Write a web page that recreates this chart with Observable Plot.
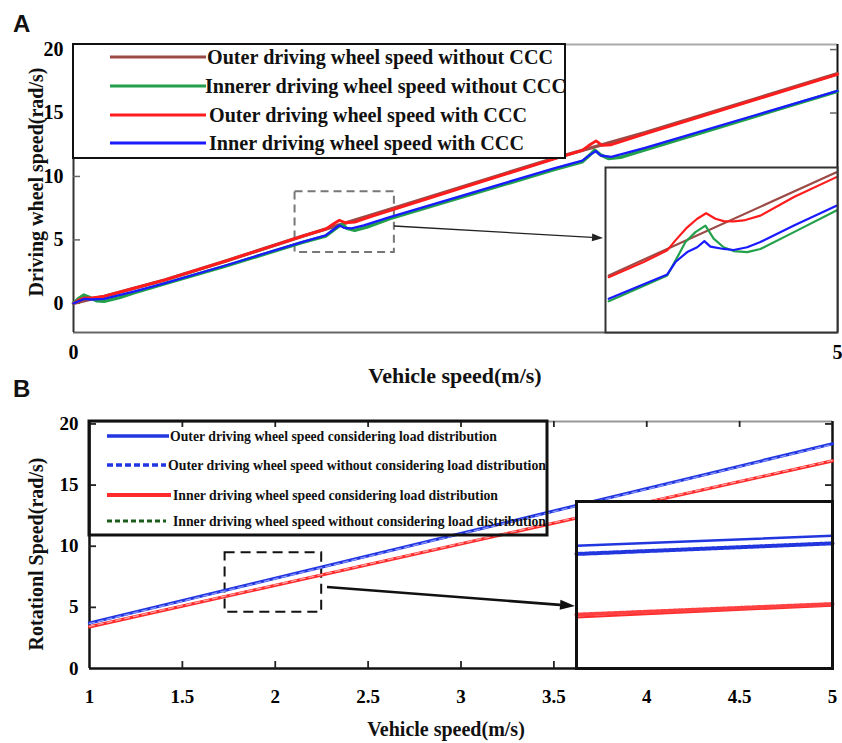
<!DOCTYPE html>
<html><head><meta charset="utf-8">
<script src="https://cdn.jsdelivr.net/npm/d3@7"></script>
<script src="https://cdn.jsdelivr.net/npm/@observablehq/plot@0.6"></script>
<style>
html,body{margin:0;padding:0;background:#fff;}
#root{position:relative;width:842px;height:743px;overflow:hidden;background:#fff;}
</style></head><body><div id="root"></div>
<script>
// ---------------- DATA ----------------
// Panel A: driving wheel speed (rad/s) vs vehicle speed (m/s)
const xTicksA = [0, 5];
const yTicksA = [0, 5, 10, 15, 20];
const legendA = [
  "Outer driving wheel speed without CCC",
  "Innerer driving wheel speed without CCC",
  "Outer driving wheel speed with CCC",
  "Inner driving wheel speed with CCC"
];
const outerNoCCC = [[0,0],[0.1,0.3],[0.2,0.55],[0.4,1.2],[0.6,1.85],[1.0,3.35],[1.5,5.3],[2.07,7.4],[3.15,11.45],[3.74,13.45],[5,18.1]];
const innerNoCCC = [[0,0],[0.03,0.35],[0.067,0.65],[0.1,0.5],[0.15,0.2],[0.2,0.15],[0.3,0.45],[0.4,0.85],[0.6,1.55],[1.0,2.95],[1.5,4.8],[1.65,5.3],[1.70,5.75],[1.74,6.1],[1.76,6.2],[1.79,5.9],[1.84,5.75],[1.92,6.0],[2.07,6.68],[3.15,10.55],[3.33,11.15],[3.38,11.7],[3.41,12.07],[3.45,11.7],[3.50,11.42],[3.58,11.5],[3.74,12.1],[5,16.7]];
const outerCCC = [[0,0],[0.04,0.3],[0.07,0.42],[0.12,0.42],[0.2,0.55],[0.4,1.2],[0.6,1.85],[1.0,3.35],[1.5,5.3],[1.65,5.85],[1.70,6.25],[1.74,6.55],[1.78,6.35],[1.84,6.4],[1.95,6.85],[2.07,7.3],[3.15,11.4],[3.33,12.05],[3.38,12.5],[3.42,12.8],[3.46,12.45],[3.52,12.5],[3.74,13.35],[5,18.05]];
const innerCCC = [[0,0],[0.04,0.2],[0.07,0.35],[0.12,0.3],[0.2,0.35],[0.4,0.95],[0.6,1.6],[1.0,3.0],[1.5,4.85],[1.65,5.35],[1.70,5.8],[1.74,6.15],[1.77,5.95],[1.82,5.9],[1.9,6.15],[2.07,6.8],[3.15,10.65],[3.33,11.25],[3.38,11.7],[3.42,12.0],[3.45,11.65],[3.52,11.55],[3.74,12.25],[5,16.75]];
// zoom window of panel A (inset)
const zoomXA = [1.45, 2.10];
const zoomYA = [4.0, 8.8];
const insetOuterNoCCC = [[1.459,5.66],[2.097,8.66]];
const insetOuterCCC = [[1.459,5.61],[1.557,6.05],[1.623,6.39],[1.646,6.68],[1.679,7.06],[1.707,7.31],[1.732,7.47],[1.758,7.31],[1.781,7.24],[1.809,7.23],[1.837,7.26],[1.884,7.40],[1.978,7.94],[2.097,8.52]];
const insetInnerNoCCC = [[1.459,4.91],[1.623,5.66],[1.646,6.09],[1.674,6.63],[1.702,6.92],[1.730,7.11],[1.753,6.73],[1.781,6.48],[1.809,6.37],[1.847,6.34],[1.884,6.43],[1.978,6.92],[2.097,7.55]];
const insetInnerCCC = [[1.459,4.98],[1.623,5.69],[1.646,6.05],[1.679,6.34],[1.707,6.48],[1.727,6.66],[1.744,6.50],[1.781,6.43],[1.809,6.40],[1.847,6.48],[1.884,6.63],[1.978,7.11],[2.097,7.69]];

// Panel B: rotational speed (rad/s) vs vehicle speed (m/s)
const xTicksB = [1, 1.5, 2, 2.5, 3, 3.5, 4, 4.5, 5];
const yTicksB = [0, 5, 10, 15, 20];
const legendB = [
  "Outer driving wheel speed considering load distribution",
  "Outer driving wheel speed without considering load distribution",
  "Inner driving wheel speed considering load distribution",
  "Inner driving wheel speed without considering load distribution"
];
const outerLD = [[1,3.72],[5,18.38]];
const outerNoLD = [[1,3.67],[5,18.33]];
const innerLD = [[1,3.40],[5,16.98]];
const innerNoLD = [[1,3.44],[5,17.02]];
const zoomXB = [1.73, 2.25];
const zoomYB = [4.59, 9.46];
const insetOuterLD = [[1.73,8.17],[2.25,8.46]];
const insetOuterNoLD = [[1.73,7.93],[2.25,8.24]];
const insetInnerLD = [[1.73,6.08],[2.25,6.42]];
const insetInnerNoLD = [[1.73,6.16],[2.25,6.47]];

// ---------------- STYLE / LAYOUT ----------------
const serif = "'Liberation Serif','Times New Roman',serif";
const sans = "'Liberation Sans',Arial,sans-serif";
const cA = {brown:"#9c4a46", green:"#22a04b", red:"#ff1c1c", blue:"#1a1aff"};
const cB = {blue:"#2236e0", red:"#ff2a2a", green:"#1d5e1d"};
const fmt = d3.format("~g");
const root = document.getElementById("root");
function place(el, left, top){
  el.style.position="absolute"; el.style.left=left+"px"; el.style.top=top+"px";
  d3.select(el).selectAll("text").attr("font-family", serif).style("font-family", serif).style("font-weight", "bold");
  root.appendChild(el); return el;
}
const line = (data, o) => Plot.line(data, {x: p=>p[0], y: p=>p[1], ...o});

// ---------------- PANEL A ----------------
const fwA = 842-73-5;   // frame width
const plotA = Plot.plot({
  width: 842, height: 400,
  marginLeft: 73, marginRight: 5, marginTop: 44, marginBottom: 68,
  x: {domain: [0, 5]},
  y: {domain: [-2.3, 20.4]},
  style: {fontSize: "20px", background: "transparent", overflow: "visible"},
  marks: [
    Plot.ruleY([20.4], {stroke: "#aaa", strokeWidth: 2}),
    Plot.ruleY([-2.3], {stroke: "#666", strokeWidth: 2}),
    Plot.ruleX([0], {stroke: "#333", strokeWidth: 2}),
    Plot.ruleX([5], {stroke: "#111", strokeWidth: 2}),
    Plot.tickY(yTicksA, {y: d=>d, insetRight: fwA-7, stroke: "#666", strokeWidth: 1.5}),
    Plot.tickY(yTicksA, {y: d=>d, insetLeft: fwA-7, stroke: "#666", strokeWidth: 1.5}),
    Plot.rect([0], {x1: zoomXA[0], x2: zoomXA[1], y1: zoomYA[0], y2: zoomYA[1], fill: "none", stroke: "#777", strokeWidth: 2, strokeDasharray: "8,5"}),
    line(outerNoCCC, {stroke: cA.brown, strokeWidth: 3.4}),
    line(innerNoCCC, {stroke: cA.green, strokeWidth: 3.4}),
    line(outerCCC, {stroke: cA.red, strokeWidth: 2.8}),
    line(innerCCC, {stroke: cA.blue, strokeWidth: 2.3}),
    Plot.axisY(yTicksA, {anchor: "left", tickSize: 0, tickPadding: 10, label: null, tickFormat: fmt, fontSize: 20}),
    Plot.axisX(xTicksA, {anchor: "bottom", tickSize: 0, tickPadding: 12, label: null, tickFormat: fmt, fontSize: 20})
  ]
});
place(plotA, 0, 0);

const insetA = Plot.plot({
  width: 232, height: 165, margin: 0,
  x: {domain: zoomXA, axis: null},
  y: {domain: zoomYA, axis: null},
  style: {background: "white", overflow: "visible"},
  marks: [
    line(insetOuterNoCCC, {stroke: cA.brown, strokeWidth: 2.2}),
    line(insetInnerNoCCC, {stroke: cA.green, strokeWidth: 2.2}),
    line(insetOuterCCC, {stroke: cA.red, strokeWidth: 2.2}),
    line(insetInnerCCC, {stroke: cA.blue, strokeWidth: 2.2}),
    Plot.frame({stroke: "#333", strokeWidth: 2})
  ]
});
place(insetA, 605, 167);

// ---------------- PANEL B ----------------
const fwB = 842-89-10, fhB = 363-41-75;
const innerXTicksB = xTicksB.slice(1, -1);
const plotB = Plot.plot({
  width: 842, height: 363,
  marginLeft: 89, marginRight: 10, marginTop: 41, marginBottom: 75,
  x: {domain: [1, 5]},
  y: {domain: [0, 20.2]},
  style: {fontSize: "19px", background: "transparent", overflow: "visible"},
  marks: [
    Plot.ruleY([20.2], {stroke: "#999", strokeWidth: 2}),
    Plot.ruleY([0], {stroke: "#111", strokeWidth: 2.5}),
    Plot.ruleX([1], {stroke: "#111", strokeWidth: 2.5}),
    Plot.ruleX([5], {stroke: "#111", strokeWidth: 2.5}),
    Plot.tickY(yTicksB.slice(1), {y: d=>d, insetRight: fwB-7, stroke: "#222", strokeWidth: 1.8}),
    Plot.tickY(yTicksB.slice(1), {y: d=>d, insetLeft: fwB-7, stroke: "#222", strokeWidth: 1.8}),
    Plot.tickX(innerXTicksB, {x: d=>d, insetTop: fhB-7, stroke: "#222", strokeWidth: 1.8}),
    Plot.tickX(innerXTicksB, {x: d=>d, insetBottom: fhB-6, stroke: "#222", strokeWidth: 1.8}),
    Plot.rect([0], {x1: zoomXB[0], x2: zoomXB[1], y1: zoomYB[0], y2: zoomYB[1], fill: "none", stroke: "#111", strokeWidth: 2, strokeDasharray: "10,6"}),
    line(outerLD, {stroke: cB.blue, strokeWidth: 3.2}),
    line(outerNoLD, {stroke: "#8a98ff", strokeWidth: 1.3, strokeDasharray: "5,4"}),
    line(innerLD, {stroke: cB.red, strokeWidth: 3.2}),
    line(innerNoLD, {stroke: "#ffa0a0", strokeWidth: 1.3, strokeDasharray: "5,4"}),
    Plot.axisY(yTicksB, {anchor: "left", tickSize: 0, tickPadding: 11, label: null, tickFormat: fmt, fontSize: 19}),
    Plot.axisX(xTicksB, {anchor: "bottom", tickSize: 0, tickPadding: 21, label: null, tickFormat: fmt, fontSize: 19})
  ]
});
place(plotB, 0, 380);

const insetB = Plot.plot({
  width: 256, height: 167, margin: 0,
  x: {domain: zoomXB, axis: null},
  y: {domain: zoomYB, axis: null},
  style: {background: "white", overflow: "visible"},
  marks: [
    line(insetOuterLD, {stroke: cB.blue, strokeWidth: 2.5}),
    line(insetOuterNoLD, {stroke: cB.blue, strokeWidth: 4, strokeDasharray: "2.5,1.5"}),
    line(insetInnerLD, {stroke: cB.red, strokeWidth: 2}),
    line(insetInnerNoLD, {stroke: "#ff4040", strokeWidth: 4, strokeDasharray: "2,1.5"}),
    Plot.frame({stroke: "#111", strokeWidth: 3})
  ]
});
place(insetB, 576, 501);

// ---------------- ANNOTATIONS ----------------
const ov = d3.select(root).append("svg").attr("width", 842).attr("height", 743)
  .style("position", "absolute").style("left", "0px").style("top", "0px");

function arrow(x1, y1, x2, y2, w, hl, hw, color){
  const a = Math.atan2(y2-y1, x2-x1), c = Math.cos(a), s = Math.sin(a);
  const bx = x2 - hl*c, by = y2 - hl*s;
  ov.append("line").attr("x1", x1).attr("y1", y1).attr("x2", bx).attr("y2", by)
    .attr("stroke", color).attr("stroke-width", w);
  ov.append("polygon").attr("points", [[x2, y2], [bx - hw/2*s, by + hw/2*c], [bx + hw/2*s, by - hw/2*c]].map(p=>p.join(",")).join(" "))
    .attr("fill", color);
}
function txt(x, y, s, size, opts = {}){
  const t = ov.append("text").attr("x", x).attr("y", y).text(s)
    .attr("font-family", opts.family || serif).attr("font-size", size).attr("font-weight", "bold")
    .attr("fill", "#111").attr("text-anchor", opts.anchor || "start");
  if (opts.len) t.attr("textLength", opts.len).attr("lengthAdjust", "spacingAndGlyphs");
  if (opts.transform) t.attr("transform", opts.transform);
  return t;
}

// Panel A legend
ov.append("rect").attr("x", 73).attr("y", 44).attr("width", 492).attr("height", 114)
  .attr("fill", "white").attr("stroke", "#111").attr("stroke-width", 2);
const legColA = [cA.brown, cA.green, cA.red, cA.blue];
const rowYA = [57, 86, 115, 143], txA = [207, 205, 209, 209], twA = [346, 361, 318, 315];
legendA.forEach((s, i) => {
  ov.append("line").attr("x1", 110).attr("x2", 206).attr("y1", rowYA[i]).attr("y2", rowYA[i])
    .attr("stroke", legColA[i]).attr("stroke-width", 3.2);
  txt(txA[i], rowYA[i] + 7, s, 20, {len: twA[i]});
});

// Panel B legend
ov.append("rect").attr("x", 89).attr("y", 421).attr("width", 458).attr("height", 114)
  .attr("fill", "none").attr("stroke", "#111").attr("stroke-width", 3);
const rowYB = [436, 465, 495, 521], txB = [170, 168, 173, 173], twB = [327, 378, 325, 373];
const legStyleB = [
  {c: cB.blue, w: 3.5, d: null, x2: 169},
  {c: cB.blue, w: 3.5, d: "6,3", x2: 166},
  {c: cB.red, w: 4, d: null, x2: 171},
  {c: cB.green, w: 3, d: "5,3", x2: 166}
];
legendB.forEach((s, i) => {
  const l = ov.append("line").attr("x1", 107).attr("x2", legStyleB[i].x2).attr("y1", rowYB[i]).attr("y2", rowYB[i])
    .attr("stroke", legStyleB[i].c).attr("stroke-width", legStyleB[i].w);
  if (legStyleB[i].d) l.attr("stroke-dasharray", legStyleB[i].d);
  txt(txB[i], rowYB[i] + 5, s, 14.5, {len: twB[i]});
});

// zoom arrows
arrow(394, 226, 603, 238, 1.3, 11, 8, "#222");
arrow(327, 587, 575, 606, 2.6, 15, 10, "#111");

// axis titles
txt(0, 0, "Vehicle speed(m/s)", 22, {anchor: "middle", transform: "translate(455,383)"});
txt(0, 0, "Vehicle speed(m/s)", 20, {anchor: "middle", transform: "translate(446,736)"});
txt(0, 0, "Driving wheel speed(rad/s)", 20, {anchor: "middle", transform: "translate(43,182) rotate(-90)"});
txt(0, 0, "Rotationl Speed(rad/s)", 20, {anchor: "middle", transform: "translate(43,554) rotate(-90)"});

// panel letters
txt(13, 32, "A", 24, {family: sans});
txt(13, 397, "B", 24, {family: sans});
</script></body></html>
